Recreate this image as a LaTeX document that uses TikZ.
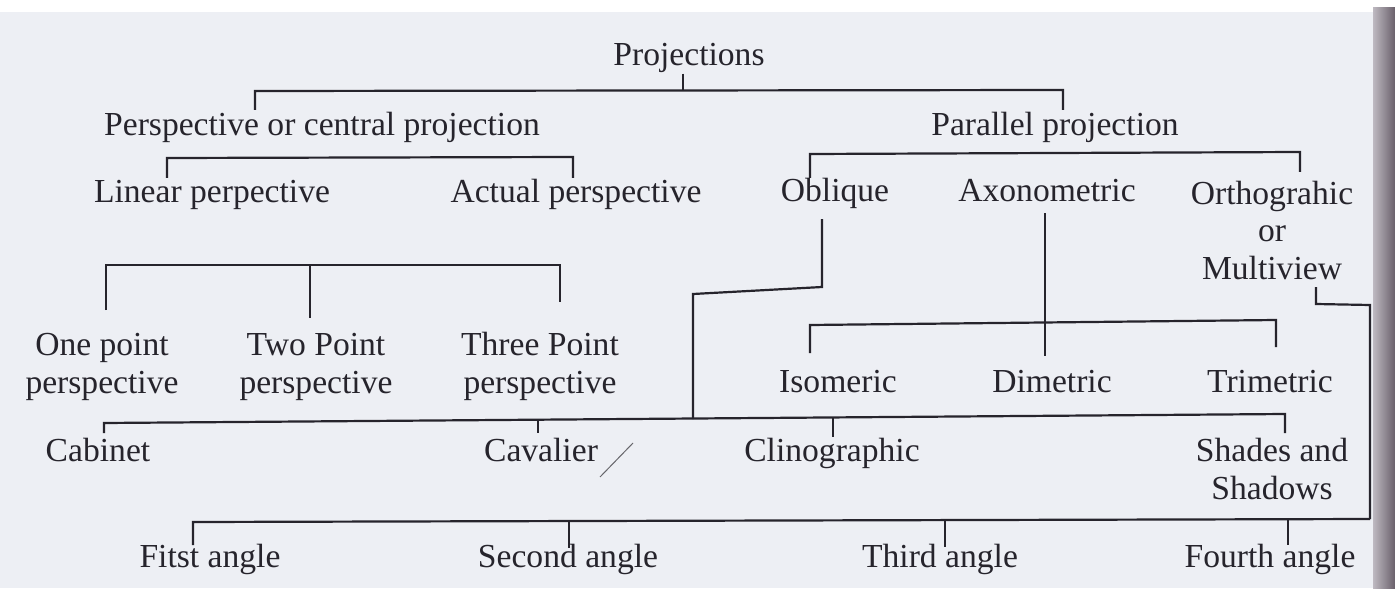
\documentclass[tikz,border=0pt]{standalone}
\usepackage{fontspec}
\setmainfont{Liberation Serif}
\definecolor{ink}{RGB}{38,36,44}
\definecolor{paper}{RGB}{237,239,244}
\definecolor{bandL}{RGB}{190,185,193}
\definecolor{bandR}{RGB}{105,96,106}
\begin{document}
\begin{tikzpicture}[x=0.5pt,y=-0.5pt,
  lbl/.style={font=\fontsize{16.8}{18.6}\selectfont, text=ink, inner sep=0pt, anchor=base, align=center},
  conn/.style={draw=ink, line width=1.1pt}]
\useasboundingbox (0,0) rectangle (1395,588);
% paper
\fill[white] (0,0) rectangle (1395,588);
\fill[paper] (0,12) rectangle (1395,588);
\shade[left color=bandL, right color=bandR] (1373,8) rectangle (1395,588);

% labels (anchor base = baseline of the last line)
\node[lbl] (proj) at (689,66) {Projections};
\node[lbl] (persp) at (322,136) {Perspective or central projection};
\node[lbl] (par) at (1055,136) {Parallel projection};
\node[lbl] (lin) at (212,203) {Linear perpective};
\node[lbl] (act) at (576,203) {Actual perspective};
\node[lbl] (obl) at (835,202) {Oblique};
\node[lbl] (axo) at (1047,202) {Axonometric};
\node[lbl] (ort) at (1272,279) {Orthograhic\\or\\Multiview};
\node[lbl] (one) at (102,393) {One point\\perspective};
\node[lbl] (two) at (316,393) {Two Point\\perspective};
\node[lbl] (three) at (540,393) {Three Point\\perspective};
\node[lbl] (iso) at (838,392) {Isomeric};
\node[lbl] (dim) at (1052,392) {Dimetric};
\node[lbl] (tri) at (1270,392) {Trimetric};
\node[lbl] (cab) at (98,461) {Cabinet};
\node[lbl] (cav) at (541,461) {Cavalier};
\node[lbl] (cli) at (832,461) {Clinographic};
\node[lbl] (sha) at (1272,499) {Shades and\\Shadows};
\node[lbl] (a1) at (210,567) {Fitst angle};
\node[lbl] (a2) at (568,567) {Second angle};
\node[lbl] (a3) at (940,567) {Third angle};
\node[lbl] (a4) at (1270,567) {Fourth angle};

% bar corners
\coordinate (pstem) at (683,90);
\coordinate (pl) at (255,91);
\coordinate (pr) at (1063,90);
\coordinate (ll) at (167,158);
\coordinate (lr) at (573,157);
\coordinate (ol) at (810,154);
\coordinate (orr) at (1300,152);
\coordinate (c1) at (106,265);
\coordinate (c2) at (310,265);
\coordinate (c3) at (560,265);
\coordinate (ob0) at (822,219);
\coordinate (ob1) at (822,287);
\coordinate (ob2) at (693,294);
\coordinate (k1) at (104,423);
\coordinate (k2) at (1285,414);
\coordinate (ax0) at (1045,213);
\coordinate (i1) at (810,325);
\coordinate (i2) at (1276,320);
\coordinate (m0) at (1316,287);
\coordinate (m1) at (1316,304);
\coordinate (m2) at (1370,305);
\coordinate (f1) at (193,522);
\coordinate (f2) at (1370,519);

% connectors
\draw[conn] (proj.south -| pstem) -- (pstem);
\draw[conn] (pl) ++(0,19) -- (pl) -- (pr) -- ++(0,20);
\draw[conn] (ll) ++(0,20) -- (ll) -- (lr) -- ++(0,21);
\draw[conn] (ol) ++(0,24) -- (ol) -- (orr) -- ++(0,20);
\draw[conn] (c1) ++(0,45) -- (c1) -- (c3) -- ++(0,37);
\draw[conn] (c2) -- ++(0,53);
\draw[conn] (ob0) -- (ob1) -- (ob2) -- (ob2 |- 0,419);
\draw[conn] (k1) ++(0,10) -- (k1) -- (k2) -- ++(0,19);
\draw[conn] (538,420) -- (538,433);
\draw[conn] (833,417) -- (833,437);
\draw[conn] (ax0) -- (ax0 |- 0,356);
\draw[conn] (i1) ++(0,28) -- (i1) -- (i2) -- ++(0,27);
\draw[conn] (m0) -- (m1) -- (m2) -- (f2);
\draw[conn] (f1) ++(0,23) -- (f1) -- (f2);
\draw[conn] (569,521) -- (569,548);
\draw[conn] (945,520) -- (945,547);
\draw[conn] (1288,519) -- (1288,545);
% stray pencil stroke
\draw[ink!70, line width=0.5pt] (633,443) -- (600,477);
\end{tikzpicture}
\end{document}
